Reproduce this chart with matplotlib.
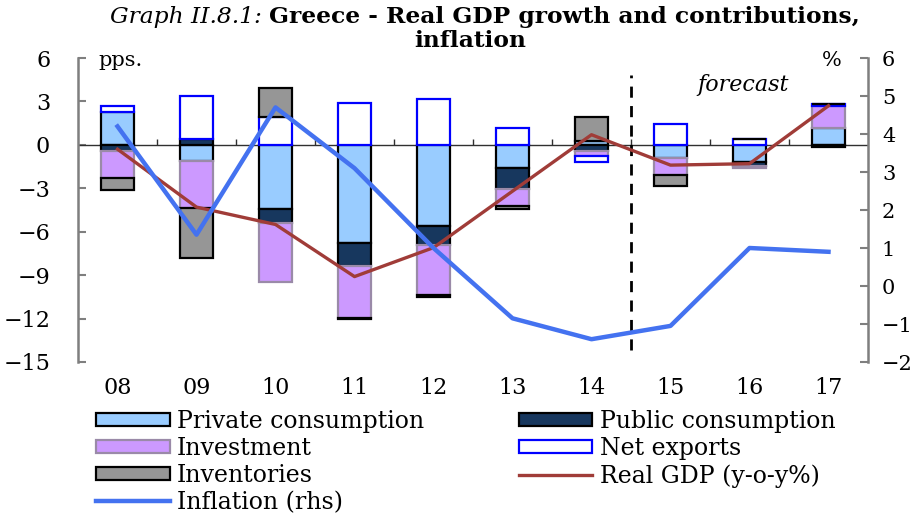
import numpy as np
import matplotlib
matplotlib.use("Agg")
import matplotlib.pyplot as plt

# Data (pps contributions, left axis; inflation on right axis)
years = ['08', '09', '10', '11', '12', '13', '14', '15', '16', '17']
private_cons = [2.3, -1.1, -4.4, -6.8, -5.6, -1.6, 0.25, -0.9, -1.15, 1.15]
public_cons = [-0.45, 0.4, -1.0, -1.55, -1.3, -1.45, -0.45, 0.0, -0.3, -0.15]
investment = [-1.85, -3.25, -4.05, -3.6, -3.5, -1.2, -0.35, -1.2, -0.15, 1.55]
net_exports = [0.35, 3.0, 1.9, 2.9, 3.2, 1.15, -0.4, 1.45, 0.4, 0.15]
inventories = [-0.8, -3.45, 2.05, -0.1, -0.1, -0.15, 1.65, -0.75, 0.0, 0.0]
real_gdp = [-0.3, -4.3, -5.5, -9.1, -7.1, -3.2, 0.7, -1.4, -1.3, 2.7]
inflation = [4.2, 1.35, 4.7, 3.1, 1.0, -0.85, -1.4, -1.05, 1.0, 0.9]

FONT = 'DejaVu Serif'
plt.rcParams['font.family'] = FONT
plt.rcParams['font.size'] = 16

SPINE = '#7f7f7f'

fig = plt.figure(figsize=(9.14, 5.16), dpi=100)
ax = fig.add_axes([78 / 914, 1 - 362 / 516, 790 / 914, 304 / 516])
ax2 = ax.twinx()

x = np.arange(len(years))
width = 0.41

# stacked bars, positive and negative stacks kept apart
series = [
    (private_cons, 'Private consumption', dict(color='#99ccff', edgecolor='black')),
    (public_cons, 'Public consumption', dict(color='#17375e', edgecolor='black')),
    (investment, 'Investment', dict(color='#cc99ff', edgecolor='#9a8aa8')),
    (net_exports, 'Net exports', dict(color='white', edgecolor='#0000ff')),
    (inventories, 'Inventories', dict(color='#969696', edgecolor='black')),
]
pos_base = np.zeros(len(years))
neg_base = np.zeros(len(years))
bars = {}
for vals, label, style in series:
    v = np.array(vals)
    bottom = np.where(v >= 0, pos_base, neg_base)
    bars[label] = ax.bar(x, v, width, bottom=bottom, linewidth=1.6,
                         label=label, zorder=3, **style)
    pos_base = pos_base + np.where(v > 0, v, 0)
    neg_base = neg_base + np.where(v < 0, v, 0)

gdp_line, = ax.plot(x, real_gdp, color='#a03c38', lw=2.4, zorder=5,
                    label='Real GDP (y-o-y%)')
infl_line, = ax2.plot(x, inflation, color='#4472f0', lw=3.2, zorder=6,
                      label='Inflation (rhs)')

# zero line with small ticks between years
ax.axhline(0, color='#303030', lw=1, zorder=2)
ax.vlines(x[:-1] + 0.5, 0, 0.4, color='#303030', lw=1, zorder=2)

# forecast separator
ax.vlines(6.5, -14.2, 4.8, color='black', lw=2, linestyles=(0, (4, 3)), zorder=4)

ax.set_xlim(-0.5, 9.5)
ax.set_ylim(-15, 6)
ax2.set_ylim(-2, 6)

ax.set_yticks(range(-15, 7, 3))
ax2.set_yticks(range(-2, 7))
ax.set_xticks(x, years)

for a in (ax, ax2):
    for s in ('top', 'bottom'):
        a.spines[s].set_visible(False)
ax.spines['right'].set_visible(False)
ax2.spines['left'].set_visible(False)
ax.spines['left'].set_color(SPINE)
ax.spines['left'].set_linewidth(1.8)
ax2.spines['right'].set_color(SPINE)
ax2.spines['right'].set_linewidth(1.8)

ax.tick_params(axis='y', direction='in', length=6, width=1.5, color=SPINE,
               pad=20, labelsize=16)
ax2.tick_params(axis='y', direction='in', length=6, width=1.5, color=SPINE,
                pad=10, labelsize=15)
ax.tick_params(axis='x', length=0, pad=11, labelsize=16)

# title
fig.text(262 / 914, 1 - 17 / 516, 'Graph II.8.1:', style='italic',
         ha='right', va='center', fontsize=16.8)
fig.text(269 / 914, 1 - 17 / 516, 'Greece - Real GDP growth and contributions,',
         weight='bold', ha='left', va='center', fontsize=16.8)
fig.text(470 / 914, 1 - 41 / 516, 'inflation', weight='bold',
         ha='center', va='center', fontsize=16.8)

fig.text(98 / 914, 1 - 60 / 516, 'pps.', ha='left', va='center', fontsize=15)
fig.text(822 / 914, 1 - 60 / 516, '%', ha='left', va='center', fontsize=15)
fig.text(697 / 914, 1 - 85 / 516, 'forecast', style='italic', ha='left',
         va='center', fontsize=16)

handles = [bars['Private consumption'], bars['Investment'], bars['Inventories'],
           infl_line, bars['Public consumption'], bars['Net exports'], gdp_line]
labels = [h.get_label() for h in handles]
fig.legend(handles, labels, loc='upper left', bbox_to_anchor=(96 / 914, 1 - 410 / 516),
           ncol=2, frameon=False, fontsize=17, handlelength=3.13, handleheight=0.5,
           handletextpad=0.3, columnspacing=4.0, labelspacing=0.17,
           borderaxespad=0, borderpad=0)

fig.savefig('out.png', dpi=100)
